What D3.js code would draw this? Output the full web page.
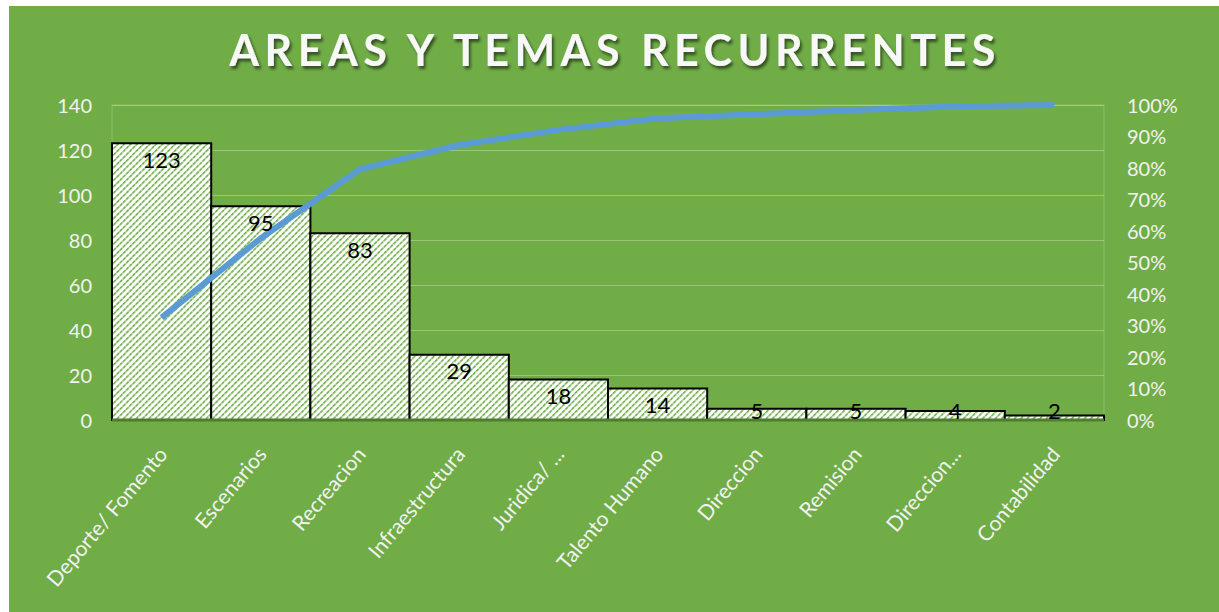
<html>
  <head>
    <script src="https://d3js.org/d3.v7.min.js"></script>
    <style>
      body {
        margin: 0;
        background: #fff;
      }
      text {
        font-family: Lato, "Open Sans", sans-serif;
      }
    </style>
  </head>
  <body>
    <svg id="chart" width="1219" height="612"></svg>
    <script>
      // values
      const categories = [
        "Deporte/ Fomento",
        "Escenarios",
        "Recreacion",
        "Infraestructura",
        "Juridica/ ...",
        "Talento Humano",
        "Direccion",
        "Remision",
        "Direccion...",
        "Contabilidad",
      ];
      const counts = [123, 95, 83, 29, 18, 14, 5, 5, 4, 2];
      // cumulative percent line
      const cumPct = [32.5, 57.7, 79.6, 87.3, 92.1, 95.8, 97.1, 98.4, 99.5, 100];
      const leftTicks = [0, 20, 40, 60, 80, 100, 120, 140];
      const rightTicks = [0, 10, 20, 30, 40, 50, 60, 70, 80, 90, 100];
      const title = "AREAS Y TEMAS RECURRENTES";

      const svg = d3.select("svg#chart");

      // green panel
      svg
        .append("rect")
        .attr("x", 9)
        .attr("y", 6)
        .attr("width", 1210)
        .attr("height", 606)
        .attr("fill", "#70ad47");

      const defs = svg.append("defs");

      // hatched fill for the bars
      const pat = defs
        .append("pattern")
        .attr("id", "hatch")
        .attr("patternUnits", "userSpaceOnUse")
        .attr("width", 4.5)
        .attr("height", 4.5)
        .attr("patternTransform", "rotate(45)");
      pat.append("rect").attr("width", 4.5).attr("height", 4.5).attr("fill", "#fff");
      pat
        .append("line")
        .attr("x1", 0.5)
        .attr("y1", 0)
        .attr("x2", 0.5)
        .attr("y2", 4.5)
        .attr("stroke", "#70ad47")
        .attr("stroke-width", 2.2)
        .attr("stroke-dasharray", "2.5,0.7");

      const shadow = defs.append("filter").attr("id", "shadow");
      shadow
        .append("feDropShadow")
        .attr("dx", 2)
        .attr("dy", 3)
        .attr("stdDeviation", 1.5)
        .attr("flood-color", "#000")
        .attr("flood-opacity", 0.55);

      const plot = { left: 112, right: 1104, top: 105, bottom: 420 };

      const xScale = d3
        .scaleBand()
        .domain(categories)
        .range([plot.left, plot.right])
        .padding(0);

      const yScale = d3
        .scaleLinear()
        .domain([0, 140])
        .range([plot.bottom, plot.top]);

      const pScale = d3
        .scaleLinear()
        .domain([0, 100])
        .range([plot.bottom, plot.top]);

      // title
      svg
        .append("text")
        .attr("x", 615)
        .attr("y", 66)
        .attr("text-anchor", "middle")
        .attr("fill", "#f8f8f8")
        .attr("font-size", 43)
        .attr("font-weight", "bold")
        .attr("letter-spacing", 5.5)
        .attr("filter", "url(#shadow)")
        .text(title);

      // gridlines
      const gridG = svg
        .append("g")
        .attr("transform", `translate(${plot.left},0)`)
        .call(
          d3
            .axisLeft(yScale)
            .tickValues(leftTicks)
            .tickSize(-(plot.right - plot.left))
            .tickFormat("")
        );
      gridG.select(".domain").remove();
      gridG
        .selectAll("line")
        .attr("stroke", "#fff")
        .attr("stroke-opacity", 0.3);

      // plot area frame
      svg
        .append("rect")
        .attr("x", plot.left)
        .attr("y", plot.top)
        .attr("width", plot.right - plot.left)
        .attr("height", plot.bottom - plot.top)
        .attr("fill", "none")
        .attr("stroke", "#fff")
        .attr("stroke-opacity", 0.2);

      // left axis labels
      const yAxisG = svg
        .append("g")
        .attr("transform", `translate(${plot.left - 20},0)`)
        .call(d3.axisLeft(yScale).tickValues(leftTicks).tickSize(0));
      yAxisG.select(".domain").remove();
      yAxisG
        .selectAll("text")
        .attr("fill", "#f2f2f2")
        .attr("font-size", 20)
        .attr("dy", "0.35em")
        .attr("x", 0)
        .style("font-family", "Lato, sans-serif");

      // right axis labels
      const pAxisG = svg
        .append("g")
        .attr("transform", `translate(${plot.right + 23},0)`)
        .call(
          d3
            .axisRight(pScale)
            .tickValues(rightTicks)
            .tickSize(0)
            .tickFormat((d) => d + "%")
        );
      pAxisG.select(".domain").remove();
      pAxisG
        .selectAll("text")
        .attr("fill", "#f2f2f2")
        .attr("font-size", 20)
        .attr("dy", "0.35em")
        .attr("x", 0)
        .style("font-family", "Lato, sans-serif");

      // bars
      svg
        .append("g")
        .selectAll("rect.bar")
        .data(counts)
        .join("rect")
        .attr("class", "bar")
        .attr("x", (d, i) => xScale(categories[i]))
        .attr("y", (d) => yScale(d))
        .attr("width", xScale.bandwidth())
        .attr("height", (d) => yScale(0) - yScale(d))
        .attr("fill", "url(#hatch)")
        .attr("stroke", "#000")
        .attr("stroke-width", 2);

      // bottom axis line
      svg
        .append("line")
        .attr("x1", plot.left)
        .attr("x2", plot.right)
        .attr("y1", plot.bottom)
        .attr("y2", plot.bottom)
        .attr("stroke", "#4e7d30")
        .attr("stroke-width", 3);

      // category labels
      svg
        .append("g")
        .selectAll("text.cat")
        .data(categories)
        .join("text")
        .attr("class", "cat")
        .attr(
          "transform",
          (d) =>
            `translate(${xScale(d) + xScale.bandwidth() / 2 + 7},${
              plot.bottom + 35
            }) rotate(-50)`
        )
        .attr("text-anchor", "end")
        .attr("fill", "#f2f2f2")
        .attr("font-size", 21)
        .text((d) => d);

      // cumulative line
      const line = d3
        .line()
        .x((d, i) => xScale(categories[i]) + xScale.bandwidth() / 2)
        .y((d) => pScale(d));

      svg
        .append("path")
        .datum(cumPct)
        .attr("d", line)
        .attr("fill", "none")
        .attr("stroke", "#5b9bd5")
        .attr("stroke-width", 6)
        .attr("stroke-linejoin", "round");

      // data labels
      svg
        .append("g")
        .selectAll("text.val")
        .data(counts)
        .join("text")
        .attr("class", "val")
        .attr("x", (d, i) => xScale(categories[i]) + xScale.bandwidth() / 2)
        .attr("y", (d) => Math.min(yScale(d) + 17, plot.bottom - 9))
        .attr("dy", "0.35em")
        .attr("text-anchor", "middle")
        .attr("fill", "#000")
        .attr("font-size", 22)
        .text((d) => d);
    </script>
  </body>
</html>
